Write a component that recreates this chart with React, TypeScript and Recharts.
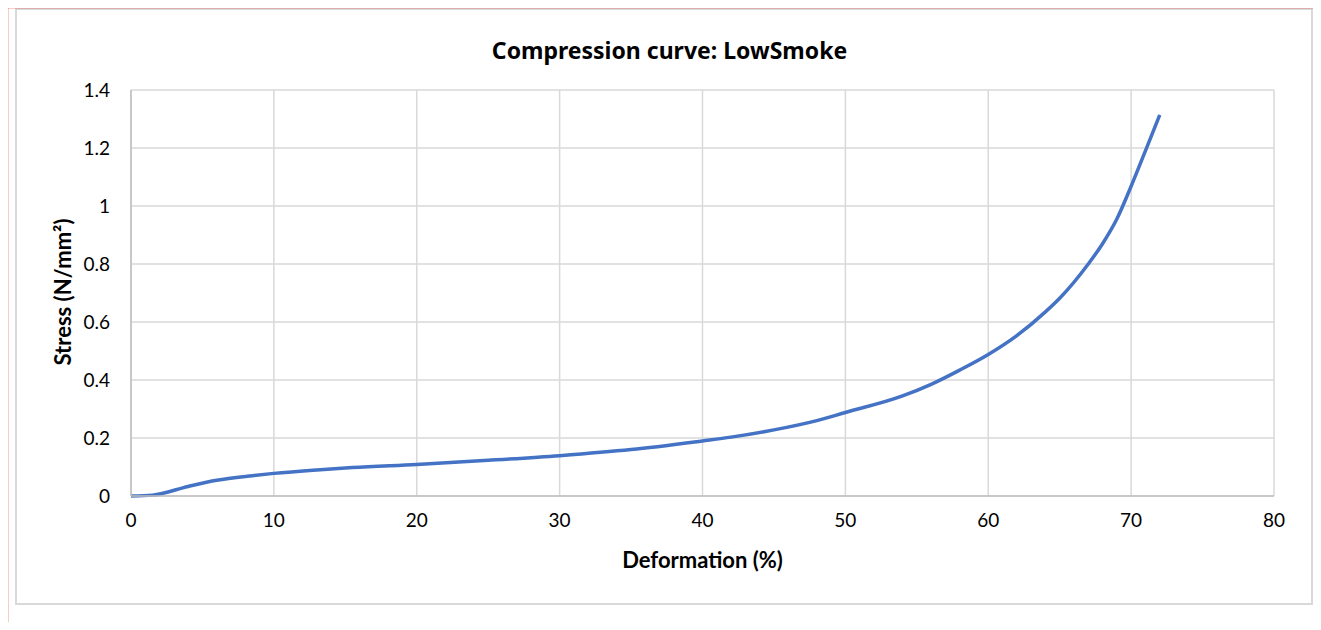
import React from "react";
import { LineChart, Line, XAxis, YAxis, CartesianGrid } from "recharts";

const deformation = [0, 1.5, 4, 6, 8.5, 10, 13, 15.5, 20, 25, 30, 35, 40, 42, 45, 48, 50, 54, 56, 58, 60, 62, 64, 65, 67, 68, 69, 70, 71, 72];
const stress = [0, 0.003, 0.033, 0.054, 0.07, 0.078, 0.09, 0.098, 0.109, 0.123, 0.139, 0.16, 0.19, 0.203, 0.228, 0.26, 0.288, 0.345, 0.385, 0.434, 0.488, 0.553, 0.635, 0.682, 0.8, 0.87, 0.955, 1.068, 1.19, 1.314];
const xTicks = [0, 10, 20, 30, 40, 50, 60, 70, 80];
const yTicks = [0, 0.2, 0.4, 0.6, 0.8, 1, 1.2, 1.4];

const data = deformation.map((d, i) => ({ d, s: stress[i] }));

const tickStyle = { fontFamily: "Lato, 'Open Sans', sans-serif", fontSize: 19, fill: "#000" };

export default function App() {
  return (
    <div style={{ position: "relative", width: 1321, height: 630, margin: -8, background: "#fff", overflow: "hidden" }}>
      <div style={{ position: "absolute", left: 15, top: 8, width: 1294, height: 593, border: "2px solid #d9d9d9" }} />
      <div style={{ position: "absolute", left: 0, top: 0 }}>
        <LineChart width={1321} height={630} data={data} margin={{ top: 90, right: 47, bottom: 104, left: 71 }}>
          <CartesianGrid stroke="#d9d9d9" strokeWidth={1.5} horizontalValues={yTicks} verticalValues={xTicks} />
          <XAxis
            dataKey="d"
            type="number"
            domain={[0, 80]}
            ticks={xTicks}
            height={30}
            tickLine={false}
            tickSize={0}
            tickMargin={18}
            axisLine={{ stroke: "#bfbfbf", strokeWidth: 1.5 }}
            tick={tickStyle}
            interval={0}
          />
          <YAxis
            type="number"
            domain={[0, 1.4]}
            ticks={yTicks}
            width={60}
            tickLine={false}
            tickSize={0}
            tickMargin={21}
            axisLine={{ stroke: "#bfbfbf", strokeWidth: 1.5 }}
            tick={tickStyle}
            interval={0}
          />
          <Line
            dataKey="s"
            type="monotone"
            stroke="#4472C4"
            strokeWidth={3.5}
            dot={false}
            isAnimationActive={false}
          />
        </LineChart>
      </div>
      <div style={{ position: "absolute", left: 0, width: 1321, top: 35, textAlign: "center", fontFamily: "'Noto Sans', sans-serif", fontWeight: 700, fontSize: 23, color: "#000", lineHeight: "30px", paddingLeft: 9 }}>
        Compression curve: LowSmoke
      </div>
      <div style={{ position: "absolute", left: 131, width: 1143, top: 545, textAlign: "center", fontFamily: "Lato, sans-serif", fontWeight: 700, fontSize: 22, color: "#000", lineHeight: "30px" }}>
        Deformation (%)
      </div>
      <div style={{ position: "absolute", left: 63 - 100, top: 292 - 15, width: 200, height: 30, textAlign: "center", transform: "rotate(-90deg)", fontFamily: "Lato, sans-serif", fontWeight: 700, fontSize: 22, color: "#000", lineHeight: "30px" }}>
        Stress (N/mm²)
      </div>
      <svg width={1321} height={630} style={{ position: "absolute", left: 0, top: 0, zIndex: 5, pointerEvents: "none" }}>
        <line x1={7.5} y1={7} x2={7.5} y2={630} stroke="#e8302a" strokeWidth={1.5} />
        <line x1={7} y1={7.5} x2={1315} y2={7.5} stroke="#e8302a" strokeWidth={1.5} />
        <line x1={1314.5} y1={7} x2={1314.5} y2={630} stroke="#f6b8b8" strokeWidth={1.5} />
      </svg>
    </div>
  );
}
